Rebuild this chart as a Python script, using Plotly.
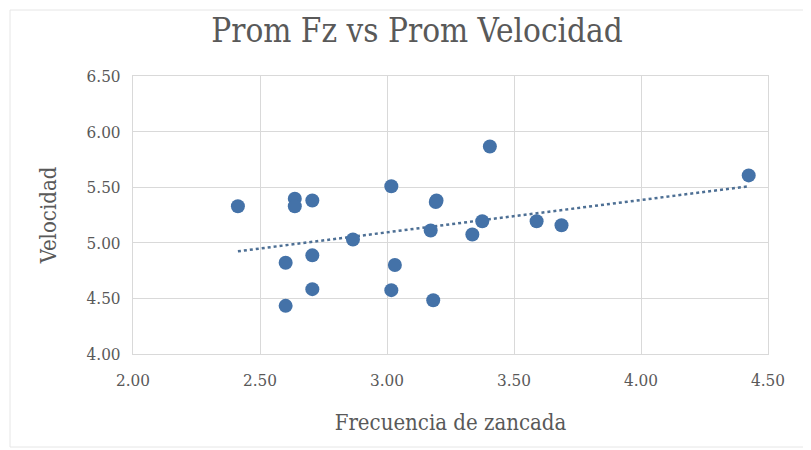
import numpy as np
import plotly.graph_objects as go

# Data
frecuencia = [2.413, 2.637, 2.637, 2.706, 3.017, 3.192, 3.405, 2.866, 3.172, 3.375, 3.336,
              3.589, 3.687, 4.424, 2.601, 2.706, 3.031, 2.706, 3.017, 3.182, 2.601, 3.195]
velocidad = [5.329, 5.397, 5.329, 5.380, 5.508, 5.367, 5.866, 5.030, 5.111, 5.194, 5.075,
             5.194, 5.158, 5.606, 4.821, 4.887, 4.800, 4.583, 4.574, 4.484, 4.433, 5.380]

x_ticks = [2.0, 2.5, 3.0, 3.5, 4.0, 4.5]
y_ticks = [4.0, 4.5, 5.0, 5.5, 6.0, 6.5]

title_text = "Prom Fz vs Prom Velocidad"
x_title = "Frecuencia de zancada"
y_title = "Velocidad"

# Linear trendline (least squares)
slope, intercept = np.polyfit(frecuencia, velocidad, 1)
tx = np.array([min(frecuencia), max(frecuencia)])
ty = slope * tx + intercept

FONT = "DejaVu Serif Condensed, DejaVu Serif, serif"
GREY = "#595959"

fig = go.Figure()
fig.add_trace(go.Scatter(
    x=tx, y=ty, mode="lines",
    line=dict(color="#4d6f94", width=2.5, dash="dot"),
    hoverinfo="skip", showlegend=False))
fig.add_trace(go.Scatter(
    x=frecuencia, y=velocidad, mode="markers",
    marker=dict(color="#4472A8", size=14),
    showlegend=False))

W, H = 811, 450
ml, mr, mt, mb = 125, 51, 68, 104
pw = W - ml - mr
ph = H - mt - mb

def px(xpix):
    return (xpix - ml) / pw

def py(ypix):
    return (H - mb - ypix) / ph

fig.update_layout(
    width=W, height=H,
    margin=dict(l=ml, r=mr, t=mt, b=mb),
    paper_bgcolor="white", plot_bgcolor="white",
    title=dict(text=title_text, x=409 / W, xanchor="center", xref="container",
               y=1 - 22 / H, yanchor="middle", yref="container",
               font=dict(family=FONT, size=33, color=GREY)),
    font=dict(family=FONT, color=GREY),
    xaxis=dict(range=[2.0, 4.5], tickvals=x_ticks,
               ticktext=[f"{v:.2f}" for v in x_ticks],
               showgrid=True, gridcolor="#D9D9D9", gridwidth=1,
               zeroline=False, showline=True, linecolor="#D9D9D9", mirror=True,
               ticks="outside", ticklen=11, tickcolor="rgba(0,0,0,0)",
               tickfont=dict(size=17, color=GREY),
               title=dict(text=x_title, font=dict(size=22, color=GREY), standoff=25)),
    yaxis=dict(range=[4.0, 6.5], tickvals=y_ticks,
               ticktext=[f"{v:.2f}" for v in y_ticks],
               showgrid=True, gridcolor="#D9D9D9", gridwidth=1,
               zeroline=False, showline=True, linecolor="#D9D9D9", mirror=True,
               ticks="outside", ticklen=8, tickcolor="rgba(0,0,0,0)",
               tickfont=dict(size=17, color=GREY),
               title=dict(text=y_title, font=dict(size=22, color=GREY), standoff=23)),
    shapes=[dict(type="rect", xref="paper", yref="paper",
                 x0=px(2), x1=px(798), y0=py(439), y1=py(2),
                 line=dict(color="#E6E6E6", width=1), fillcolor="rgba(0,0,0,0)",
                 layer="below")],
)

fig.write_html("out.html")
